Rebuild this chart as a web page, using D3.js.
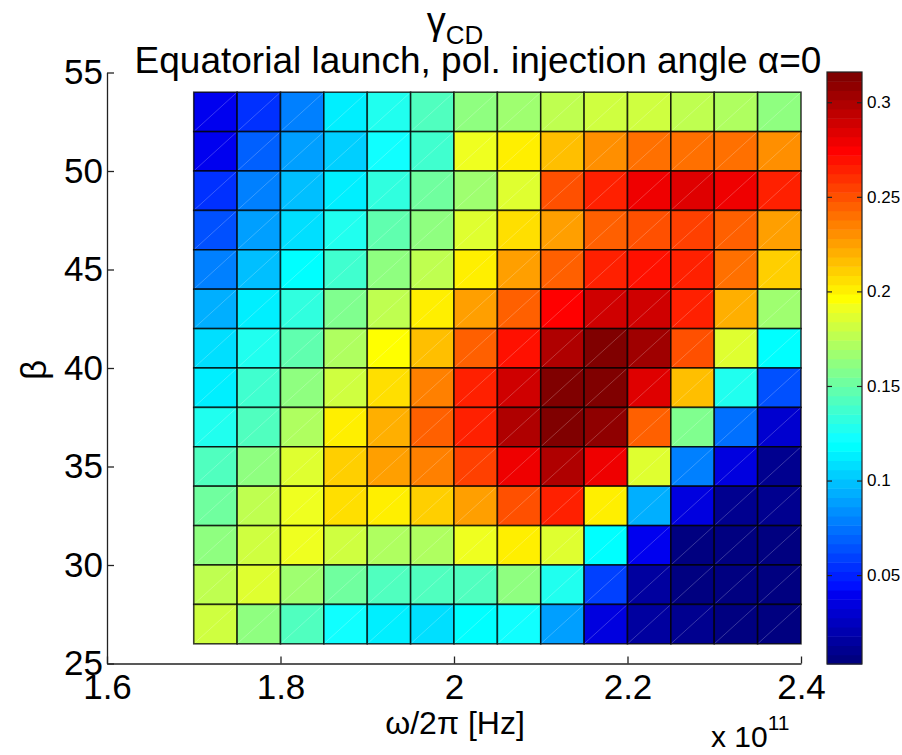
<!DOCTYPE html>
<html>
<head>
<meta charset="utf-8">
<script src="https://cdn.jsdelivr.net/npm/d3@7"></script>
<style>
  body { margin: 0; background: #fff; }
  svg text { font-family: "Liberation Sans", Arial, sans-serif; fill: #000; }
</style>
</head>
<body>
<div id="chart"></div>
<script>
// cell lower-left corners (omega/2pi in units of 1e11 Hz, beta in degrees)
const freqs = [1.70, 1.75, 1.80, 1.85, 1.90, 1.95, 2.00, 2.05, 2.10, 2.15, 2.20, 2.25, 2.30, 2.35];
const betas = [52, 50, 48, 46, 44, 42, 40, 38, 36, 34, 32, 30, 28, 26];

// gamma_CD, one row per beta above (top row first)
const gammaCD = [
  [0.042, 0.053, 0.081, 0.113, 0.128, 0.144, 0.160, 0.169, 0.178, 0.183, 0.183, 0.178, 0.172, 0.160],
  [0.042, 0.069, 0.088, 0.103, 0.125, 0.138, 0.189, 0.199, 0.216, 0.228, 0.238, 0.238, 0.238, 0.228],
  [0.053, 0.078, 0.100, 0.113, 0.134, 0.153, 0.169, 0.188, 0.250, 0.267, 0.277, 0.285, 0.277, 0.263],
  [0.066, 0.088, 0.108, 0.128, 0.147, 0.163, 0.185, 0.206, 0.225, 0.244, 0.250, 0.257, 0.247, 0.225],
  [0.078, 0.097, 0.120, 0.138, 0.160, 0.178, 0.199, 0.225, 0.247, 0.263, 0.271, 0.266, 0.238, 0.211],
  [0.094, 0.111, 0.134, 0.156, 0.175, 0.200, 0.225, 0.247, 0.272, 0.291, 0.291, 0.266, 0.222, 0.169],
  [0.108, 0.128, 0.147, 0.170, 0.194, 0.216, 0.244, 0.271, 0.297, 0.312, 0.303, 0.250, 0.185, 0.120],
  [0.113, 0.138, 0.160, 0.181, 0.206, 0.233, 0.263, 0.291, 0.313, 0.315, 0.285, 0.216, 0.128, 0.066],
  [0.128, 0.144, 0.170, 0.199, 0.219, 0.244, 0.263, 0.297, 0.313, 0.307, 0.244, 0.156, 0.072, 0.031],
  [0.141, 0.160, 0.188, 0.211, 0.225, 0.235, 0.253, 0.277, 0.300, 0.277, 0.185, 0.078, 0.034, 0.009],
  [0.153, 0.178, 0.192, 0.206, 0.203, 0.211, 0.225, 0.250, 0.263, 0.199, 0.094, 0.034, 0.012, 0.011],
  [0.163, 0.181, 0.192, 0.180, 0.174, 0.172, 0.192, 0.199, 0.188, 0.116, 0.042, 0.006, 0.006, 0.006],
  [0.178, 0.185, 0.169, 0.150, 0.144, 0.141, 0.141, 0.160, 0.128, 0.059, 0.016, 0.005, 0.005, 0.005],
  [0.180, 0.160, 0.141, 0.125, 0.114, 0.109, 0.117, 0.125, 0.088, 0.037, 0.016, 0.008, 0.005, 0.005]
];

const xTicks = [1.6, 1.8, 2, 2.2, 2.4];
const yTicks = [25, 30, 35, 40, 45, 50, 55];
const cbarTicks = [0.05, 0.1, 0.15, 0.2, 0.25, 0.3];
const colorRange = [0.003, 0.316];

class JetMap {
  constructor() {
    this.width = 902;
    this.height = 755;
    this.freqStep = 0.05;
    this.betaStep = 2;
  }

  /* ---
   * Draws the whole figure.
   */
  display(el) {
    this.el = el;

    this.createSvg();
    this.createScales();
    this.createCells();
    this.createAxes();
    this.createColorbar();
    this.createLabels();
  }

  /* ---
   * Helper: MATLAB jet(64) colormap.
   */
  jet64() {
    const u = k => (k <= 16 ? k / 16 : (k <= 31 ? 1 : (48 - k) / 16));
    const colors = [];
    for (let i = 1; i <= 64; i++) {
      const r = i >= 25 ? u(i - 24) : 0,
            g = (i >= 9 && i <= 55) ? u(i - 8) : 0,
            b = i <= 39 ? u(i + 7) : 0;
      colors.push(d3.rgb(r * 255, g * 255, b * 255).formatHex());
    }
    return colors;
  }

  createSvg() {
    this.svg = d3.select(this.el).append('svg').attr('width', this.width).attr('height', this.height);
  }

  createScales() {
    this.x = d3.scaleLinear().domain([1.6, 2.4]).range([107, 801]);
    this.y = d3.scaleLinear().domain([25, 55]).range([663.5, 72.5]);
    this.color = d3.scaleQuantize().domain(colorRange).range(this.jet64());
  }

  /* ---
   * Helper: pcolor cells with the black edges and faint diagonals.
   */
  createCells() {
    const cells = [];
    betas.forEach((b, r) => {
      freqs.forEach((f, c) => cells.push({ f: f, b: b, v: gammaCD[r][c] }));
    });

    const g = this.svg.append('g');
    const cell = g.selectAll('g').data(cells).enter().append('g');

    cell.append('rect')
        .attr('x', d => this.x(d.f))
        .attr('y', d => this.y(d.b + this.betaStep))
        .attr('width', d => this.x(d.f + this.freqStep) - this.x(d.f))
        .attr('height', d => this.y(d.b) - this.y(d.b + this.betaStep))
        .attr('fill', d => this.color(d.v));

    cell.append('line')
        .attr('x1', d => this.x(d.f)).attr('y1', d => this.y(d.b))
        .attr('x2', d => this.x(d.f + this.freqStep)).attr('y2', d => this.y(d.b + this.betaStep))
        .attr('stroke', '#fff').attr('stroke-opacity', 0.22).attr('stroke-width', 1);

    cell.append('rect')
        .attr('x', d => this.x(d.f))
        .attr('y', d => this.y(d.b + this.betaStep))
        .attr('width', d => this.x(d.f + this.freqStep) - this.x(d.f))
        .attr('height', d => this.y(d.b) - this.y(d.b + this.betaStep))
        .attr('fill', 'none')
        .attr('stroke', '#000').attr('stroke-opacity', 0.75).attr('stroke-width', 1.6);
  }

  createAxes() {
    const xAxis = this.svg.append('g')
        .attr('transform', 'translate(0,663.5)')
        .call(d3.axisBottom(this.x).tickValues(xTicks).tickSize(-7).tickSizeOuter(0).tickPadding(11)
                .tickFormat(d => String(d)));

    const yAxis = this.svg.append('g')
        .attr('transform', 'translate(107,0)')
        .call(d3.axisLeft(this.y).tickValues(yTicks).tickSize(-7).tickSizeOuter(0).tickPadding(4)
                .tickFormat(d => String(d)));

    [xAxis, yAxis].forEach(a => {
      a.selectAll('path, line').attr('stroke', '#222').attr('stroke-width', 1.3);
      a.selectAll('text').attr('font-size', 35).attr('font-family', '"Liberation Sans", Arial, sans-serif');
    });
  }

  /* ---
   * Helper: colorbar on the right.
   */
  createColorbar() {
    const left = 827, right = 862;
    const cb = d3.scaleLinear().domain(colorRange).range([664, 72]);
    const bins = this.color.range().map(c => this.color.invertExtent(c));

    this.svg.append('g').selectAll('rect').data(bins).enter().append('rect')
        .attr('x', left).attr('width', right - left)
        .attr('y', d => cb(d[1]))
        .attr('height', d => cb(d[0]) - cb(d[1]) + 0.5)
        .attr('fill', d => this.color((d[0] + d[1]) / 2));

    this.svg.append('rect')
        .attr('x', left).attr('y', 72).attr('width', right - left).attr('height', 592)
        .attr('fill', 'none').attr('stroke', '#222').attr('stroke-width', 1.2);

    const rAxis = this.svg.append('g')
        .attr('transform', `translate(${right},0)`)
        .call(d3.axisRight(cb).tickValues(cbarTicks).tickSize(-5).tickSizeOuter(0).tickPadding(5)
                .tickFormat(d => String(d)));
    const lAxis = this.svg.append('g')
        .attr('transform', `translate(${left},0)`)
        .call(d3.axisLeft(cb).tickValues(cbarTicks).tickSize(-5).tickSizeOuter(0).tickFormat(''));

    [rAxis, lAxis].forEach(a => {
      a.select('.domain').remove();
      a.selectAll('line').attr('stroke', '#222').attr('stroke-width', 1.2);
      a.selectAll('text').attr('font-size', 17).attr('font-family', '"Liberation Sans", Arial, sans-serif');
    });
  }

  createLabels() {
    const title = this.svg.append('text').attr('x', 455).attr('y', 34).attr('text-anchor', 'middle');
    title.append('tspan').attr('font-size', 38).text('γ');
    title.append('tspan').attr('font-size', 26).attr('dy', 10).text('CD');

    this.svg.append('text')
        .attr('x', 478).attr('y', 73).attr('text-anchor', 'middle').attr('font-size', 37)
        .text('Equatorial launch, pol. injection angle α=0');

    this.svg.append('text')
        .attr('x', 455).attr('y', 734).attr('text-anchor', 'middle').attr('font-size', 32)
        .text('ω/2π [Hz]');

    this.svg.append('text')
        .attr('transform', 'translate(46,370) rotate(-90)')
        .attr('text-anchor', 'middle').attr('font-size', 35)
        .text('β');

    const mult = this.svg.append('text').attr('x', 711).attr('y', 747).attr('font-size', 30);
    mult.append('tspan').text('x 10');
    mult.append('tspan').attr('font-size', 21).attr('dy', -17).text('11');
  }
}

new JetMap().display('#chart');
</script>
</body>
</html>
